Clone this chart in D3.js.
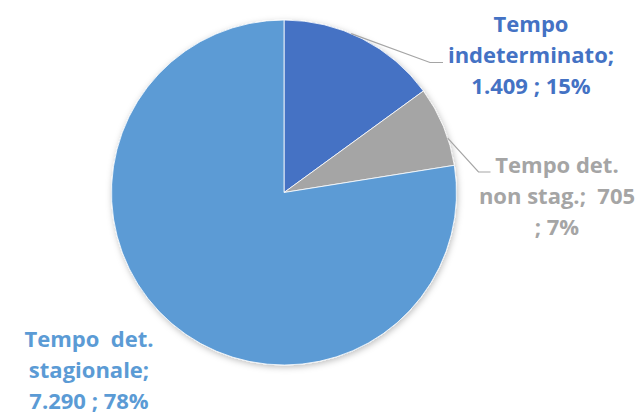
<!DOCTYPE html>
<html>
<head>
<meta charset="utf-8">
<script src="https://cdn.jsdelivr.net/npm/d3@7"></script>
<style>
  html, body { margin: 0; padding: 0; background: #fff; }
  svg { display: block; }
  .lbl { font-family: "Open Sans", Lato, sans-serif; font-weight: 700; font-size: 22px; white-space: pre; }
  .leader { fill: none; stroke: #a5a5a5; stroke-width: 1.2; }
</style>
</head>
<body>
<svg id="chart" width="641" height="415"></svg>
<script>
// --- data ---
const categories = ["Tempo indeterminato", "Tempo det. non stag.", "Tempo det. stagionale"];
const values = [1409, 705, 7290];
const colors = ["#4472c4", "#a5a5a5", "#5b9bd5"];
// how the category names wrap in the data labels
const nameLines = [["Tempo", "indeterminato;"], ["Tempo det.", "non stag.;  "], ["Tempo  det.", "stagionale;"]];

const W = 641, H = 415;
const cx = 284, cy = 192.5, R = 172.5;

const svg = d3.select("#chart");

const defs = svg.append("defs");
const shadow = defs.append("filter").attr("id", "shadow")
  .attr("x", "-10%").attr("y", "-10%").attr("width", "120%").attr("height", "120%");
shadow.append("feDropShadow").attr("dx", 1).attr("dy", 2).attr("stdDeviation", 3)
  .attr("flood-color", "#000").attr("flood-opacity", 0.25);

const it = d3.formatLocale({ decimal: ",", thousands: ".", grouping: [3], currency: ["€", ""] });
const fmtNum = it.format(",d");
const total = d3.sum(values);

const pie = d3.pie().sort(null).value(d => d);
const arcs = pie(values);
const arc = d3.arc().innerRadius(0).outerRadius(R);

const g = svg.append("g").attr("transform", `translate(${cx},${cy})`);

g.append("g").attr("filter", "url(#shadow)")
  .selectAll("path").data(arcs).join("path")
  .attr("d", arc)
  .attr("fill", (d, i) => colors[i])
  .attr("stroke", "#fff").attr("stroke-width", 0.8);

/* ---------- data labels ----------
   label anchor (centre x, first baseline) and leader elbow, per slice */
const labelPos = [
  { x: 531, y: 31.5, leader: [[430, 62.5], [443, 62.5]] },
  { x: 557, y: 172.5, leader: [[478.5, 172], [490.5, 172]] },
  { x: 89, y: 347, leader: null }
];
const lineH = 31.2;

// point on the rim where each leader line starts
const rimAngle = [0.40, 1.25];

arcs.forEach((a, i) => {
  const pos = labelPos[i];
  const pct = Math.round(values[i] / total * 100) + "%";
  let lines;
  if (i === 1) lines = [nameLines[i][0], nameLines[i][1] + fmtNum(values[i]), "; " + pct];
  else lines = [...nameLines[i], fmtNum(values[i]) + " ; " + pct];

  const t = svg.append("text").attr("class", "lbl")
    .attr("fill", colors[i]).attr("text-anchor", "middle");
  lines.forEach((s, k) => {
    t.append("tspan").attr("x", pos.x).attr("y", pos.y + k * lineH).text(s);
  });

  if (pos.leader) {
    const ang = rimAngle[i];
    const p0 = [cx + R * Math.sin(ang), cy - R * Math.cos(ang)];
    svg.append("path").attr("class", "leader")
      .attr("d", d3.line()([p0, ...pos.leader]));
  }
});
</script>
</body>
</html>
